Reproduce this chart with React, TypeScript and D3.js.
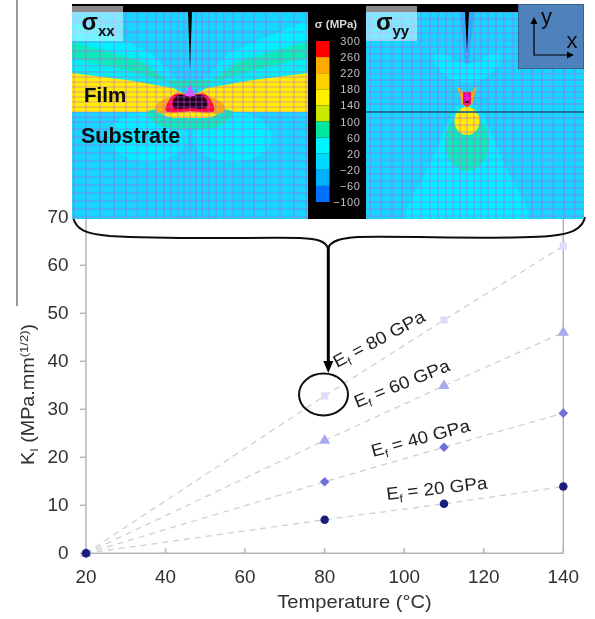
import React from "react";
import * as d3 from "d3";

const temps = [20, 80, 110, 140];
const ef20 = [0, 7, 10.3, 13.9];
const ef40 = [0, 14.9, 22.1, 29.2];
const ef60 = [0, 23.5, 34.9, 46];
const ef80 = [0, 32.8, 48.6, 64];
const xTicks = [20, 40, 60, 80, 100, 120, 140];
const yTicks = [0, 10, 20, 30, 40, 50, 60, 70];
const seriesColors = ["#1f1f7c", "#6f6fdc", "#a9a9ee", "#dedefa"];
const seriesSymbols = [d3.symbolCircle, d3.symbolSquare, d3.symbolTriangle, d3.symbolSquare];
const seriesSizes = [57, 46, 55, 52];
const seriesTurns = [0, 45, 0, 0];
const seriesNames = ["20", "40", "60", "80"];

const bandColors = ["#ff0000", "#ffa800", "#ffd000", "#fff000", "#c8e800", "#00e8a0", "#00f4ff", "#00d8ff", "#00b0ff", "#0070ff"];
const bandLabels = ["300", "260", "220", "180", "140", "100", "60", "20", "\u221220", "\u221260", "\u2212100"];

const cCyan = "#00f0ff";
const cAzure = "#14d6fb";
const cGreen = "#10eab8";
const cYellow = "#fff000";
const cOrange = "#ffb400";
const cRed = "#ff0a3c";

// Half-contours of the xx map: [offset from the crack axis, depth below panel top], mirrored
const xxWedge = [[0, 80], [-40, 40], [-118, 8], [-118, 28], [-47, 45], [-17, 72]];
const xxFan = [[0, 82], [-22, 55], [-67, 0], [0, 0]];
const xxCyanBand = [[0, 84], [-17, 72], [-47, 45], [-118, 28], [-118, 62], [0, 84]];
const xxGreen = [[-14, 76], [-47, 50], [-118, 30], [-118, 46], [-60, 59], [-30, 68]];
const xxYellow = [[0, 85], [-17, 76], [-63, 68], [-118, 61], [-118, 100], [0, 100]];
const xxOrange = [[0, 81], [-18, 84], [-33, 92], [-34, 100], [0, 100]];
const xxRed = [[0, 83], [-15, 82], [-22, 90], [-24, 99], [0, 99]];
const xxLensGreen = [[-43, 100], [-36, 110], [-18, 117], [0, 117]];
const xxLensYellow = [[-29, 100], [-22, 105], [-10, 106], [0, 106]];
const xxDome = [[0, 85], [-12, 83], [-17, 90], [-16, 96], [0, 96]];
const xxLobes = [[-42, 125, 40, 25]];

const yyFan = [[0, 75], [-3, 40], [-7, 0], [0, 0]];
const yyLobe = [[-4, 70], [-14, 68], [-30, 55], [-33, 42], [-22, 42], [-10, 50]];
const yyCone = [[0, 85], [-14, 100], [-36, 150], [-60, 207], [0, 207]];
const yyGreen = [22, 130, 29];
const yyYellow = [12.5, 109, 14];
const yyWing = [[0, 84], [-8, 76], [-10, 74], [-9, 78], [-5, 92], [0, 96]];
const yyHead = [[0, 80], [-4, 80], [-4, 92], [0, 95]];

const xxVerticals = [0, 6, 12, 19, 26, 34, 43, 53, 64, 76, 90, 104, 116];
const xxHorizontals = [0, 10, 20, 30, 39, 47, 54, 60, 65, 70, 75, 80, 85, 90, 95, 100, 105, 110, 117, 125, 133, 141, 149, 157, 165, 173, 181, 189, 197, 205];
const yyVerticals = [0, 7, 14, 21, 29, 37, 46, 55, 65, 75, 86, 97, 108];
const yyHorizontals = [0, 7, 14, 21, 28, 35, 42, 49, 56, 62, 68, 74, 80, 86, 92, 100, 106, 113, 120, 127, 134, 141, 148, 155, 162, 169, 176, 183, 190, 197, 204];

const x = d3.scaleLinear().domain([20, 140]).range([86, 563.3]);
const y = d3.scaleLinear().domain([0, 70]).range([553.3, 217.3]);
const xxX = d3.scaleLinear().domain([-118, 118]).range([72, 308]);
const yyX = d3.scaleLinear().domain([-101, 117]).range([366, 584]);
const panelY = d3.scaleLinear().domain([0, 207]).range([12, 219]);
const barY = d3.scaleLinear().domain([0, bandColors.length]).range([41, 202]);

const series = [ef20, ef40, ef60, ef80];
const lineGen = d3.line<number>().x((_, i) => x(temps[i])).y((v) => y(v));

function half(sx: any, pts: number[][], curve = false) {
  const right = [...pts].reverse().map(([a, b]) => [-a, b]);
  const all = [...pts, ...right];
  const g = d3.line().x((p) => sx(p[0])).y((p) => panelY(p[1]));
  if (curve) g.curve(d3.curveCatmullRomClosed.alpha(0.5));
  else g.curve(d3.curveLinearClosed);
  return g(all as any) as string;
}

function Mesh({ sx, vs, hs, clip, x0, x1 }: any) {
  return (
    <g stroke="#c058e8" strokeOpacity={0.62} strokeWidth={0.9} clipPath={clip}>
      {vs.flatMap((v: number, i: number) =>
        (v === 0 ? [0] : [v, -v]).map((o: number) => (
          <line key={`${i}${o}`} x1={sx(o)} x2={sx(o)} y1={panelY(0)} y2={panelY(207)} />
        ))
      )}
      {hs.map((h: number) => (
        <line key={h} x1={x0} x2={x1} y1={panelY(h)} y2={panelY(h)} />
      ))}
    </g>
  );
}

export default function App() {
  const font = "'Liberation Sans', Arial, sans-serif";
  return (
    <svg width={595} height={619} style={{ position: "absolute", left: 0, top: 0, background: "#fff" }} fontFamily={font}>
      <defs>
        <clipPath id="cxx"><rect x={72} y={12} width={236} height={207} /></clipPath>
        <clipPath id="cyy"><rect x={366} y={12} width={218} height={207} /></clipPath>
        <filter id="soft" x="-2%" y="-2%" width="104%" height="104%"><feGaussianBlur stdDeviation="0.6" /></filter>
        <filter id="softer" x="-5%" y="-5%" width="110%" height="110%"><feGaussianBlur stdDeviation="0.35" /></filter>
      </defs>

      <line x1={17} x2={17} y1={0} y2={306} stroke="#333" strokeWidth={1} />

      <g filter="url(#softer)">
        {/* axes */}
        <g stroke="#b4b4b4" strokeWidth={1.5} fill="none">
          <line x1={x(20)} x2={x(20)} y1={y(70)} y2={y(0)} />
          <line x1={x(140)} x2={x(140)} y1={y(70)} y2={y(0)} />
          <line x1={x(20)} x2={x(140)} y1={y(0)} y2={y(0)} />
          {xTicks.map((t) => <line key={t} x1={x(t)} x2={x(t)} y1={y(0)} y2={y(0) - 5} />)}
          {yTicks.map((t) => <line key={t} x1={x(20) - 6} x2={x(20)} y1={y(t)} y2={y(t)} />)}
        </g>
        <g fill="#303030" fontSize={17.5}>
          {xTicks.map((t) => <text key={t} transform={`translate(${x(t)},583) scale(1.08,1)`} textAnchor="middle">{t}</text>)}
          {yTicks.map((t) => <text key={t} transform={`translate(68.5,${y(t) + 6}) scale(1.08,1)`} textAnchor="end">{t}</text>)}
          <text transform="translate(354.5,608) scale(1.15,1)" textAnchor="middle">Temperature (°C)</text>
          <text transform="translate(34,465) rotate(-90) scale(1.13,1)">
            K<tspan fontSize={11} dy={4}>I</tspan>
            <tspan dy={-4}> (MPa.mm</tspan>
            <tspan fontSize={11.5} dy={-6}>(1/2)</tspan>
            <tspan dy={6}>)</tspan>
          </text>
        </g>

        {/* series */}
        {series.map((s, i) => (
          <path key={i} d={lineGen(s) as string} fill="none" stroke="#d0d0d0" strokeWidth={1.3} strokeDasharray="6 5" />
        ))}
        {series.map((s, i) => [...s.keys()].reverse().map((j) => (
          <path
            key={`${i}-${j}`}
            d={d3.symbol().type(seriesSymbols[i]).size(seriesSizes[i])() as string}
            transform={`translate(${x(temps[j])},${y(s[j])}) rotate(${seriesTurns[i]})`}
            fill={seriesColors[i]}
          />
        ))).reverse()}

        {/* series labels */}
        <g fill="#222" fontSize={17.5}>
          {seriesNames.map((n, i) => {
            const pos = [[387, 500, -6.5], [373, 457, -15], [357, 408, -22], [337, 368, -28]][i];
            return (
              <text key={n} transform={`translate(${pos[0]},${pos[1]}) rotate(${pos[2]}) scale(1.08,1)`}>
                E<tspan fontSize={11} dy={4}>f</tspan>
                <tspan dy={-4}> = {n} GPa</tspan>
              </text>
            );
          })}
        </g>

        {/* circled point and arrow */}
        <ellipse cx={323.5} cy={394.5} rx={24.5} ry={21} fill="none" stroke="#111" strokeWidth={2} />
        <line x1={328.3} x2={328.3} y1={246} y2={362} stroke="#000" strokeWidth={3} />
        <path d="M323.3,361 L333.3,361 L328.3,373 Z" fill="#000" />
        <path
          d="M73,217 C76,230 86,234 110,236 C180,240 260,237 300,238 C318,239 325,241 328,248 C331,241 340,238 358,237 C420,236 500,240 550,236 C570,234 582,230 585,217"
          fill="none" stroke="#111" strokeWidth={2}
        />
      </g>

      {/* colour maps */}
      <rect x={72} y={4} width={446} height={8} fill="#000" filter="url(#softer)" />
      <rect x={308} y={4} width={58} height={215} fill="#000" />

      <g filter="url(#soft)">
        <g clipPath="url(#cxx)">
          <rect x={72} y={12} width={236} height={207} fill={cAzure} />
          <path d={half(xxX, xxWedge)} fill={cCyan} />
          <path d={half(xxX, xxFan)} fill={cAzure} />
          <path d={half(xxX, xxCyanBand)} fill="#00f0f0" />
          <path d={half(xxX, xxGreen)} fill={cGreen} />
          <path d={half(xxX, xxYellow)} fill={cYellow} />
          {xxLobes.map((l, i) => [1, -1].map((sg) => (
            <ellipse key={`${i}${sg}`} cx={xxX(sg * l[0])} cy={panelY(l[1])} rx={l[2]} ry={l[3]} fill={cCyan} />
          )))}
          <path d={half(xxX, xxLensGreen, true)} fill={cGreen} />
          <path d={half(xxX, xxLensYellow, true)} fill={cYellow} />
          <path d={half(xxX, xxOrange, true)} fill={cOrange} />
          <path d={half(xxX, xxRed, true)} fill={cRed} />
          <path d={half(xxX, xxDome, true)} fill="#200018" />
          <path d={`M${xxX(-5)},${panelY(84)}L${xxX(5)},${panelY(84)}L${xxX(0)},${panelY(72)}Z`} fill="#d060ff" />
        </g>
        <Mesh sx={xxX} vs={xxVerticals} hs={xxHorizontals} clip="url(#cxx)" x0={72} x1={308} />
        <path d={`M${xxX(-2)},${panelY(0)}L${xxX(2)},${panelY(0)}L${xxX(0)},${panelY(58)}Z`} fill="#000" />

        <g clipPath="url(#cyy)">
          <rect x={366} y={12} width={218} height={207} fill={cAzure} />
          <path d={half(yyX, yyFan)} fill="#28b0f8" />
          <path d={half(yyX, yyLobe, true)} fill={cCyan} />
          <path d={half(yyX, yyCone, true)} fill={cCyan} />
          <ellipse cx={yyX(0)} cy={panelY(yyGreen[1])} rx={yyGreen[0]} ry={yyGreen[2]} fill={cGreen} />
          <ellipse cx={yyX(0)} cy={panelY(yyYellow[1])} rx={yyYellow[0]} ry={yyYellow[2]} fill={cYellow} />
          <path d={half(yyX, yyWing)} fill={cOrange} />
          <path d={half(yyX, yyHead)} fill={cRed} />
          <rect x={yyX(-3)} y={panelY(82)} width={6} height={8} fill="#f000c0" />
          <rect x={yyX(-1.5)} y={panelY(89)} width={3} height={2} fill="#000" />
        </g>
        <Mesh sx={yyX} vs={yyVerticals} hs={yyHorizontals} clip="url(#cyy)" x0={366} x1={584} />
        <line x1={366} x2={584} y1={112} y2={112} stroke="#0f5f78" strokeWidth={1.3} />
        <path d={`M${yyX(-2)},${panelY(0)}L${yyX(2)},${panelY(0)}L${yyX(0)},${panelY(40)}Z`} fill="#000" />
      </g>

      {/* colour bar */}
      <g filter="url(#softer)">
        {bandColors.map((c, i) => (
          <rect key={c} x={316} width={13.5} y={barY(i)} height={barY(i + 1) - barY(i)} fill={c} />
        ))}
        <text x={336} y={28} textAnchor="middle" fontSize={11.5} fontWeight="bold" fill="#d8d8d8">σ (MPa)</text>
        {bandLabels.map((l, i) => (
          <text key={l} x={360.5} y={barY(i) + 4} textAnchor="end" fontSize={11} letterSpacing={0.6} fill="#c0c0c0">{l}</text>
        ))}
      </g>

      {/* panel captions */}
      <g filter="url(#softer)">
        <rect x={72} y={6} width={51} height={6} fill="#8a8a8a" />
        <rect x={72} y={12} width={51} height={29} fill="#fff" fillOpacity={0.45} />
        <rect x={366} y={6} width={51} height={6} fill="#8a8a8a" />
        <rect x={366} y={12} width={51} height={29} fill="#fff" fillOpacity={0.45} />
        <text x={81.5} y={30} fontSize={24} fontWeight="bold" fill="#0a0a10">σ<tspan fontSize={15} dy={6}>xx</tspan></text>
        <text x={376} y={30} fontSize={24} fontWeight="bold" fill="#0a0a10">σ<tspan fontSize={15} dy={6}>yy</tspan></text>
        <text x={84} y={102} fontSize={20.5} fontWeight="bold" fill="#0a0a10">Film</text>
        <text x={81} y={143} fontSize={21.5} fontWeight="bold" fill="#0a0a10">Substrate</text>

        <rect x={518.5} y={4.5} width={65} height={64} fill="#4f81bd" stroke="#3a5f8c" strokeWidth={1} />
        <path d="M534,20 V55 H568" fill="none" stroke="#000" strokeWidth={1.2} />
        <path d="M530.5,24 L534,17 L537.5,24 Z M567,51.5 L574,55 L567,58.5 Z" fill="#000" />
        <text x={541} y={24} fontSize={22} fill="#0a0a10">y</text>
        <text x={566.5} y={48} fontSize={22} fill="#0a0a10">x</text>
      </g>
    </svg>
  );
}
